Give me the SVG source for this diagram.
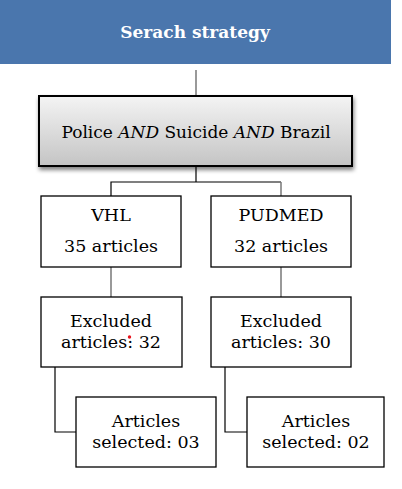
<svg xmlns="http://www.w3.org/2000/svg" width="402" height="489" viewBox="0 0 402 489">
<style>
.t{font-family:"DejaVu Serif","Liberation Serif",serif;font-size:17.5px;fill:#000;text-anchor:middle}
.box{fill:#fff;stroke:#000;stroke-width:1.3}
.c{fill:none;stroke:#000;stroke-width:1.2}
.g{fill:none;stroke:#777;stroke-width:1.5}
</style>
<defs>
<linearGradient id="gr" x1="0" y1="0" x2="0" y2="1">
<stop offset="0" stop-color="#f4f4f4"/>
<stop offset="1" stop-color="#c4c4c4"/>
</linearGradient>
<filter id="sh" x="-10%" y="-20%" width="120%" height="150%">
<feGaussianBlur in="SourceAlpha" stdDeviation="2"/>
<feOffset dx="1" dy="3"/>
<feComponentTransfer><feFuncA type="linear" slope="0.5"/></feComponentTransfer>
<feMerge><feMergeNode/><feMergeNode in="SourceGraphic"/></feMerge>
</filter>
</defs>
<g id="connectors">
<line class="g" x1="196" y1="70" x2="196" y2="96"/>
<polyline class="c" points="196,167 196,182"/>
<polyline class="c" points="111,196 111,182 281,182"/>
<line class="g" x1="281" y1="182" x2="281" y2="196"/>
<line class="g" x1="111" y1="267" x2="111" y2="297"/>
<line class="g" x1="281" y1="267" x2="281" y2="297"/>
<polyline class="c" points="55,367 55,432 76,432"/>
<polyline class="c" points="225,367 225,432 247,432"/>
</g>
<g id="header">
<rect x="0" y="0" width="391" height="64" fill="#4a76ad"/>
<text x="195" y="38" style="font-family:'DejaVu Serif','Liberation Serif',serif;font-size:17px;font-weight:bold;fill:#fff;text-anchor:middle">Serach strategy</text>
</g>
<g id="query">
<rect x="39" y="96" width="313" height="70" fill="url(#gr)" stroke="#000" stroke-width="2" filter="url(#sh)"/>
<text class="t" x="196" y="138" style="font-size:17px">Police <tspan font-style="italic">AND</tspan> Suicide <tspan font-style="italic">AND</tspan> Brazil</text>
</g>
<g id="vhl">
<rect class="box" x="41" y="196" width="140" height="71"/>
<text class="t" x="111" y="221">VHL</text>
<text class="t" x="111" y="252">35 articles</text>
</g>
<g id="pudmed">
<rect class="box" x="211" y="196" width="140" height="71"/>
<text class="t" x="281" y="221">PUDMED</text>
<text class="t" x="281" y="252">32 articles</text>
</g>
<g id="excl-left">
<rect class="box" x="41" y="297" width="141" height="70"/>
<text class="t" x="111" y="327">Excluded</text>
<text class="t" x="111" y="348">articles: 32</text>
<circle cx="129.5" cy="337" r="1.7" fill="#e8121b"/>
</g>
<g id="excl-right">
<rect class="box" x="211" y="297" width="140" height="70"/>
<text class="t" x="281" y="327">Excluded</text>
<text class="t" x="281" y="348">articles: 30</text>
</g>
<g id="sel-left">
<rect class="box" x="76" y="397" width="140" height="70"/>
<text class="t" x="146" y="427">Articles</text>
<text class="t" x="146" y="448">selected: 03</text>
</g>
<g id="sel-right">
<rect class="box" x="247" y="397" width="137" height="70"/>
<text class="t" x="316" y="427">Articles</text>
<text class="t" x="316" y="448">selected: 02</text>
</g>
</svg>
